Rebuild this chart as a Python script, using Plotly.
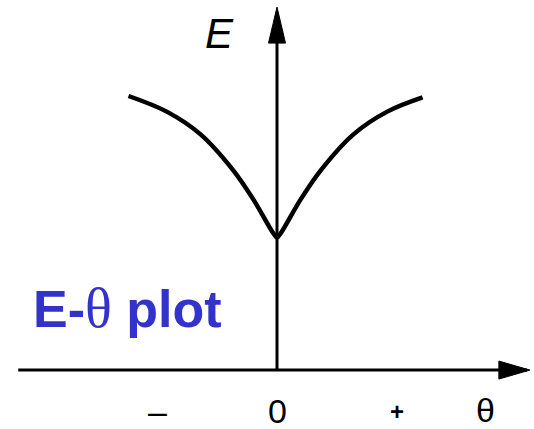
import plotly.graph_objects as go

# curve values (theta in arbitrary units, E in arbitrary units)
theta_left = [-1.01, -0.75, -0.52, -0.30, -0.16, -0.03, 0.0]
e_left = [1.93, 1.82, 1.66, 1.41, 1.20, 0.97, 0.93]
theta_right = [0.0, 0.03, 0.16, 0.30, 0.52, 0.75, 0.99]
e_right = [0.93, 0.97, 1.20, 1.41, 1.66, 1.82, 1.92]

x_axis_ends = [-1.76, 1.70]
y_axis_ends = [0.0, 2.52]

tick_positions = [-0.81, 0.0, 0.816]
tick_labels = ["\u2013", "0", "+"]

X_RANGE = [-1.884, 1.748]
Y_RANGE = [-0.415, 2.606]

fig = go.Figure()

# axes lines
fig.add_trace(go.Scatter(x=x_axis_ends, y=[0, 0], mode="lines",
                         line=dict(color="black", width=3), hoverinfo="skip"))
fig.add_trace(go.Scatter(x=[0, 0], y=y_axis_ends, mode="lines",
                         line=dict(color="black", width=3), hoverinfo="skip"))

# curves
for tx, ey in ((theta_left, e_left), (theta_right, e_right)):
    fig.add_trace(go.Scatter(x=tx, y=ey, mode="lines",
                             line=dict(color="black", width=4.5, shape="spline"),
                             hoverinfo="skip"))

# arrowheads (pixel sized, anchored at axis ends)
fig.add_shape(type="path", xref="x", yref="y", xsizemode="pixel", ysizemode="pixel",
              xanchor=0, yanchor=2.556, path="M0,0 L-8.5,-36 L8.5,-36 Z",
              fillcolor="black", line=dict(color="black", width=1))
fig.add_shape(type="path", xref="x", yref="y", xsizemode="pixel", ysizemode="pixel",
              xanchor=1.72, yanchor=0, path="M0,0 L-31,9 L-31,-9 Z",
              fillcolor="black", line=dict(color="black", width=1))

# axis labels
fig.add_annotation(x=-0.39, y=2.37, text="<i>E</i>", showarrow=False,
                   font=dict(family="Liberation Sans", size=42, color="black"))
for xp, lab in zip(tick_positions, tick_labels):
    fig.add_annotation(x=xp, y=-0.29, text=lab, showarrow=False,
                       font=dict(family="Liberation Sans", size=34 if lab != "+" else 24,
                                 color="black", weight="bold" if lab == "+" else "normal"))
fig.add_annotation(x=1.415, y=-0.28, text="\u03b8", showarrow=False,
                   font=dict(family="Liberation Sans", size=34, color="black"))

# title text
fig.add_annotation(x=-1.67, y=0.437, xanchor="left", text=
                   'E-<span style="font-family:Liberation Serif;font-weight:normal;font-size:56px">\u03b8</span> plot',
                   showarrow=False,
                   font=dict(family="Liberation Sans", size=52, color="rgb(51,51,204)",
                             weight="bold"))

fig.update_layout(width=534, height=429, margin=dict(l=0, r=0, t=0, b=0),
                  paper_bgcolor="white", plot_bgcolor="white", showlegend=False,
                  xaxis=dict(range=X_RANGE, visible=False, fixedrange=True),
                  yaxis=dict(range=Y_RANGE, visible=False, fixedrange=True))

fig.write_html("out.html", config={"displayModeBar": False, "staticPlot": True},
               post_script="document.body.style.margin='0';")
